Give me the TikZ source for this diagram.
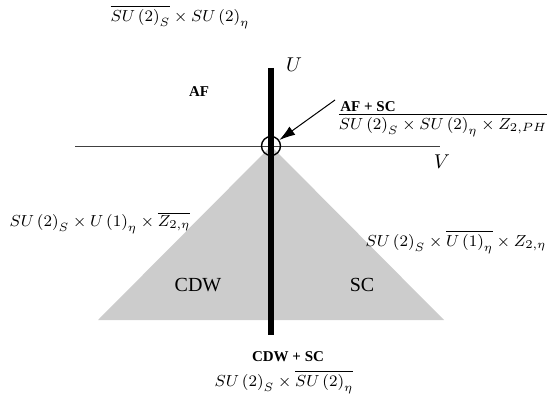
\documentclass[tikz,border=0pt]{standalone}
\usepackage{amsmath,amssymb}
\usepackage{fontspec}
\setmainfont{Liberation Serif}
\usepackage{tikz}
\usetikzlibrary{arrows.meta,positioning,calc}
\newcommand{\SUt}{SU\left(2\right)}
\newcommand{\Uo}{U\left(1\right)}

\begin{document}
\begin{tikzpicture}[x=0.5pt,y=-0.5pt,>=Latex]
  \useasboundingbox (0,0) rectangle (550,401);
  \tikzset{phase/.style={font=\fontsize{10}{12}\selectfont},
           tag/.style={font=\fontsize{7.5}{9}\selectfont\bfseries},
           sym/.style={font=\fontsize{8.5}{10}\selectfont}}
  % shaded region
  \fill[gray!40] (271,146) -- (98,320) -- (444,320) -- cycle;
  % axes
  \coordinate (vl) at (75,146);
  \coordinate (vr) at (440,146);
  \coordinate (ut) at (271,68);
  \coordinate (ub) at (271,335);
  \draw[line width=0.5pt,black!75] (vl) -- (vr);
  \draw[line width=2.6pt] (ut) -- (ub);
  \node[draw,circle,line width=0.7pt,minimum size=9.5pt,inner sep=0pt] (tc) at (271,146) {};
  \node (U) at (294,65) {$U$};
  \node (V) at (442,162) {$V$};
  % phases
  \node[tag] (af) at (199,92) {AF};
  \node[phase] (cdw) at (198,285) {CDW};
  \node[phase] (sc) at (362,285) {SC};
  % multicritical point
  \node[tag] (afsc) at (368,107) {AF + SC};
  \node[sym] (afscg) at (443,125) {$\overline{\SUt_S\times\SUt_\eta\times Z_{2,PH}}$};
  \coordinate (tip) at (335,100);
  \draw[->,line width=0.5pt,>={Latex[length=8pt,width=5pt]}] (tip) -- (tc);
  % symmetry groups
  \node[sym] (afg) at (180,17) {$\overline{\SUt_S}\times\SUt_\eta$};
  \node[sym] (cdwg) at (100,223) {$\SUt_S\times\Uo_\eta\times\overline{Z_{2,\eta}}$};
  \node[sym] (scg) at (456,242) {$\SUt_S\times\overline{\Uo_\eta}\times Z_{2,\eta}$};
  \node[tag] (cdwsc) at (288,357) {CDW + SC};
  \node[sym] (cdwscg) at (284,382) {$\SUt_S\times\overline{\SUt_\eta}$};
\end{tikzpicture}
\end{document}
